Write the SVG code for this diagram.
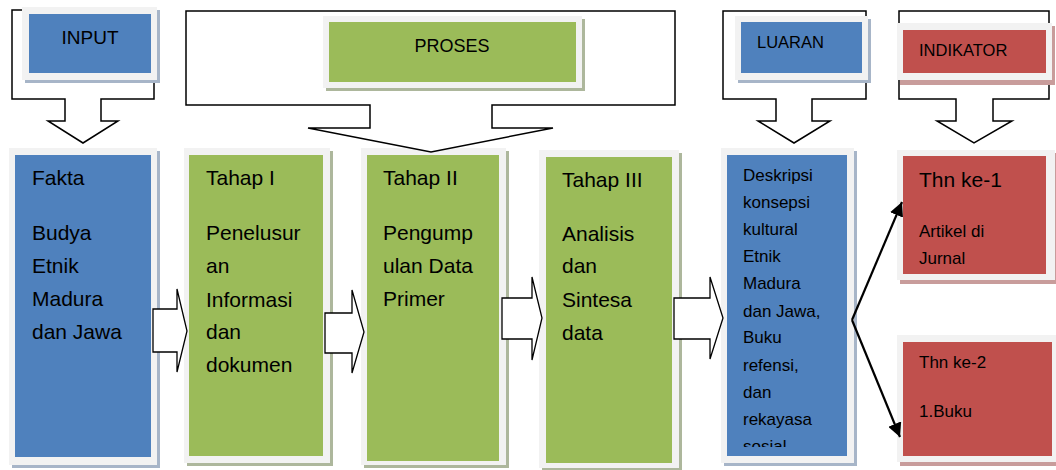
<svg xmlns="http://www.w3.org/2000/svg" width="1056" height="470" viewBox="0 0 1056 470">
<style>
text{font-family:"Liberation Sans",Arial,sans-serif;fill:#000}
.frame{fill:#f2f2f2}
.blue{fill:#4f81bd}.green{fill:#9bbb59}.red{fill:#c0504d}
.sb{fill:#a7b5c8}.sg{fill:#adb79c}.sr{fill:#c89c9b}
.out{fill:#fff;stroke:#000;stroke-width:1.5;stroke-linejoin:miter}
.barrow{fill:#fff;stroke:#000;stroke-width:1.3}
.big{font-size:21px}.sm{font-size:17px}
.ln{stroke:#000;stroke-width:2.2;fill:none}
</style>
<defs>
<marker id="ah" markerUnits="userSpaceOnUse" markerWidth="16" markerHeight="14" refX="14" refY="7" orient="auto">
<path d="M0,0 L14,7 L0,14 Z" fill="#000"/>
</marker>
<clipPath id="clipD"><rect x="727" y="155" width="120" height="292"/></clipPath>
</defs>

<g id="node-fakta">
<rect class="sb" x="12" y="151" width="148" height="317"/>
<rect class="frame" x="9" y="148" width="148" height="317"/>
<rect class="blue" x="15" y="155" width="136" height="302"/>
<text class="big" x="32" y="185">Fakta</text>
<text class="big" x="32" y="240">Budya</text>
<text class="big" x="32" y="273">Etnik</text>
<text class="big" x="32" y="306">Madura</text>
<text class="big" x="32" y="339">dan Jawa</text>
</g>

<g id="node-tahap1">
<rect class="sg" x="187" y="151" width="146" height="315"/>
<rect class="frame" x="184" y="148" width="146" height="315"/>
<rect class="green" x="189" y="155" width="134" height="301"/>
<text class="big" x="206" y="185">Tahap I</text>
<text class="big" x="206" y="240">Penelusur</text>
<text class="big" x="206" y="273">an</text>
<text class="big" x="206" y="307">Informasi</text>
<text class="big" x="206" y="339">dan</text>
<text class="big" x="206" y="372">dokumen</text>
</g>

<g id="node-tahap2">
<rect class="sg" x="364" y="151" width="145" height="317"/>
<rect class="frame" x="361" y="148" width="145" height="317"/>
<rect class="green" x="367" y="155" width="132" height="306"/>
<text class="big" x="383" y="185">Tahap II</text>
<text class="big" x="383" y="240">Pengump</text>
<text class="big" x="383" y="273">ulan Data</text>
<text class="big" x="383" y="306">Primer</text>
</g>

<g id="node-tahap3">
<rect class="sg" x="542" y="153" width="140" height="318"/>
<rect class="frame" x="539" y="150" width="140" height="318"/>
<rect class="green" x="546" y="157" width="126" height="306"/>
<text class="big" x="562" y="187">Tahap III</text>
<text class="big" x="562" y="241">Analisis</text>
<text class="big" x="562" y="273">dan</text>
<text class="big" x="562" y="307">Sintesa</text>
<text class="big" x="562" y="340">data</text>
</g>

<g id="node-deskripsi">
<rect class="sb" x="724" y="151" width="133" height="315"/>
<rect class="frame" x="721" y="148" width="133" height="315"/>
<rect class="blue" x="727" y="155" width="120" height="301"/>
<g clip-path="url(#clipD)">
<text class="sm" x="743" y="181">Deskripsi</text>
<text class="sm" x="743" y="208">konsepsi</text>
<text class="sm" x="743" y="235">kultural</text>
<text class="sm" x="743" y="262">Etnik</text>
<text class="sm" x="743" y="289">Madura</text>
<text class="sm" x="743" y="317">dan Jawa,</text>
<text class="sm" x="743" y="343">Buku</text>
<text class="sm" x="743" y="371">refensi,</text>
<text class="sm" x="743" y="398">dan</text>
<text class="sm" x="743" y="425">rekayasa</text>
<text class="sm" x="743" y="452">sosial</text>
</g>
</g>

<g id="node-thn1">
<rect class="sr" x="900" y="153" width="156" height="131"/>
<rect class="frame" x="897" y="150" width="158" height="130"/>
<rect class="red" x="903" y="156" width="143" height="118"/>
<text class="big" x="919" y="187">Thn ke-1</text>
<text class="sm" x="919" y="237">Artikel di</text>
<text class="sm" x="919" y="264">Jurnal</text>
</g>

<g id="node-thn2">
<rect class="sr" x="900" y="338" width="156" height="128"/>
<rect class="frame" x="897" y="335" width="159" height="127"/>
<rect class="red" x="903" y="342" width="149" height="114"/>
<text class="sm" x="919" y="368">Thn ke-2</text>
<text class="sm" x="919" y="417">1.Buku</text>
</g>

<g id="node-input">
<path class="out" d="M12,10 H154 V99 H101 V121 H118 L83,143 L48,121 H65 V99 H12 Z"/>
<rect class="sb" x="25" y="10" width="135" height="73"/>
<rect class="frame" x="22" y="7" width="135" height="73"/>
<rect class="blue" x="29" y="14" width="122" height="59"/>
<text x="90" y="44" font-size="19" text-anchor="middle">INPUT</text>
</g>

<g id="node-proses">
<path class="out" d="M186,11 H675 V105 H492 V128 H553 L431,152 L308,128 H370 V105 H186 Z"/>
<rect class="sg" x="326" y="19" width="259" height="72"/>
<rect class="frame" x="323" y="16" width="259" height="72"/>
<rect class="green" x="329" y="22" width="247" height="60"/>
<text x="452" y="52" font-size="18" text-anchor="middle">PROSES</text>
</g>

<g id="node-luaran">
<path class="out" d="M723,11 H866 V99 H812 V121 H830 L794,143 L758,121 H776 V99 H723 Z"/>
<rect class="sb" x="738" y="19" width="133" height="64"/>
<rect class="frame" x="735" y="16" width="133" height="64"/>
<rect class="blue" x="741" y="22" width="121" height="51"/>
<text x="757" y="48" font-size="16.5">LUARAN</text>
</g>

<g id="node-indikator">
<path class="out" d="M899,11 H1049 V99 H993 V121 H1012 L974,143 L937,121 H956 V99 H899 Z"/>
<rect class="sr" x="900" y="26" width="155" height="59"/>
<rect class="frame" x="897" y="23" width="155" height="57"/>
<rect class="red" x="903" y="30" width="143" height="43"/>
<text x="919" y="56" font-size="16.5">INDIKATOR</text>
</g>

<g id="connectors">
<path class="barrow" d="M153,309 H177 V289 L187,331 L177,372 V352 H153 Z"/>
<path class="barrow" d="M325,313 H352 V290 L364,332 L352,373 V353 H325 Z"/>
<path class="barrow" d="M502,298 H532 V277 L542,318 L532,360 V339 H502 Z"/>
<path class="barrow" d="M674,298 H710 V277 L723,318 L710,359 V339 H674 Z"/>
<line class="ln" x1="852" y1="320" x2="902" y2="202" marker-end="url(#ah)"/>
<line class="ln" x1="852" y1="320" x2="900" y2="437" marker-end="url(#ah)"/>
</g>
</svg>
